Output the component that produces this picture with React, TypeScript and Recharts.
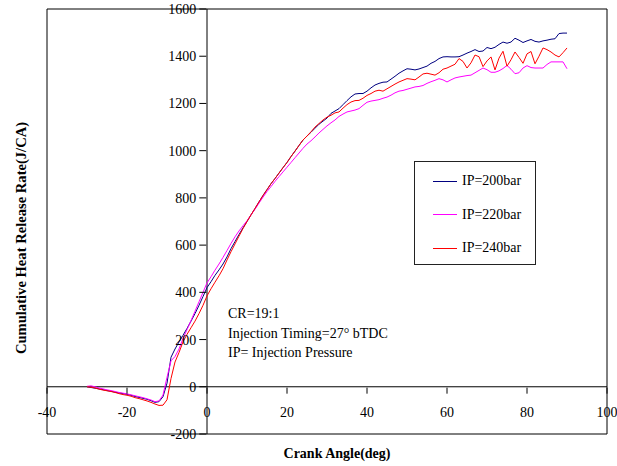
import { LineChart, Line, XAxis, YAxis, Legend, ReferenceLine, ReferenceArea } from 'recharts';

const FONT = '"Liberation Serif", "Times New Roman", serif';

// crank angle, deg
const angles = [
  -30, -29, -28, -27, -26, -25, -24, -23, -22, -21, -20, -19, -18, -17, -16, -15, -14, -13, -12, -11,
  -10, -9, -8, -7, -6, -5, -4, -3, -2, -1, 0, 1, 2, 3, 4, 5, 6, 7, 8, 9,
  10, 11, 12, 13, 14, 15, 16, 17, 18, 19, 20, 21, 22, 23, 24, 25, 26, 27, 28, 29,
  30, 31, 32, 33, 34, 35, 36, 37, 38, 39, 40, 41, 42, 43, 44, 45, 46, 47, 48, 49,
  50, 51, 52, 53, 54, 55, 56, 57, 58, 59, 60, 61, 62, 63, 64, 65, 66, 67, 68, 69,
  70, 71, 72, 73, 74, 75, 76, 77, 78, 79, 80, 81, 82, 83, 84, 85, 86, 87, 88, 89, 90,
];

// cumulative heat release, J/CA
const ip200 = [
  0, -3, -6, -9, -12, -16, -19, -23, -26, -29, -32, -36, -41, -45, -49, -53, -59, -66, -63, -42,
  15, 125, 160, 190, 218, 247, 278, 310, 345, 382,
  420, 445, 472, 495, 520, 550, 585, 615, 645, 673, 700,
  728, 755, 783, 810, 835, 860, 882, 905, 928, 950,
  975, 998, 1022, 1045, 1062, 1078, 1095, 1112, 1125, 1138,
  1158, 1168, 1178, 1195, 1212, 1228, 1240, 1242, 1242, 1252,
  1266, 1278, 1285, 1290, 1291, 1303, 1315, 1328, 1338, 1347,
  1345, 1342, 1346, 1352, 1358, 1370, 1378, 1390, 1397, 1398,
  1397, 1397, 1398, 1405, 1413, 1420, 1428, 1420, 1422, 1437,
  1432, 1438, 1450, 1460, 1455, 1460, 1476, 1468, 1458, 1465,
  1471, 1463, 1460, 1465, 1468, 1472, 1474, 1496, 1498, 1498,
];

const ip220 = [
  2, 4, 0, -5, -9, -13, -16, -20, -24, -27, -30, -34, -38, -42, -46, -51, -56, -63, -60, -35,
  40, 110, 128, 160, 205, 242, 280, 320, 360, 400,
  440, 466, 494, 520, 548, 577, 607, 635, 660, 682, 703,
  728, 752, 778, 803, 827, 848, 870, 890, 910, 930,
  950, 970, 990, 1010, 1028, 1042, 1058, 1075, 1090, 1105,
  1118, 1130, 1145, 1155, 1164, 1168, 1172, 1178, 1192, 1205,
  1210, 1213, 1216, 1222, 1227, 1235, 1245, 1252, 1255, 1260,
  1265, 1270, 1272, 1276, 1285, 1292, 1298, 1305, 1300, 1291,
  1300, 1308, 1312, 1315, 1318, 1320, 1330, 1340, 1350, 1343,
  1332, 1332, 1338, 1348, 1361, 1345, 1326, 1330, 1350, 1360,
  1352, 1350, 1350, 1350, 1365, 1376, 1376, 1376, 1376, 1347,
];

const ip240 = [
  0, -2, -5, -10, -14, -17, -20, -24, -29, -33, -36, -40, -46, -50, -55, -60, -66, -73, -79, -78,
  -55, 35, 105, 145, 190, 222, 250, 278, 310, 345,
  385, 415, 443, 470, 500, 537, 572, 605, 638, 670, 700,
  728, 755, 783, 810, 835, 860, 882, 905, 928, 950,
  975, 998, 1022, 1045, 1062, 1080, 1100, 1115, 1130, 1142,
  1150, 1160, 1164, 1180, 1195, 1206, 1212, 1213, 1222, 1234,
  1242, 1252, 1256, 1252, 1262, 1272, 1282, 1291, 1298, 1305,
  1303, 1300, 1312, 1325, 1328, 1324, 1320, 1330, 1345, 1350,
  1358, 1366, 1390, 1378, 1350, 1372, 1405, 1398, 1356, 1380,
  1397, 1342, 1392, 1421, 1358, 1385, 1418, 1395, 1370, 1410,
  1420, 1368, 1400, 1435, 1428, 1418, 1405, 1397, 1415, 1435,
];

const xTicks = [-40, -20, 0, 20, 40, 60, 80, 100];
const yTicks = [-200, 0, 200, 400, 600, 800, 1000, 1200, 1400, 1600];
const xDomain: [number, number] = [-40, 100];
const yDomain: [number, number] = [-200, 1600];

const notes = ['CR=19:1', 'Injection Timing=27\u00b0 bTDC', 'IP= Injection Pressure'];

const data = angles.map((angle, i) => ({
  angle,
  ip200: ip200[i],
  ip220: ip220[i],
  ip240: ip240[i],
}));

const W = 617;
const H = 466;
const margin = { top: 9, right: 10, bottom: 31, left: 46 };
const plotW = W - margin.left - margin.right;
const plotH = H - margin.top - margin.bottom;
// where the zero lines sit inside the plot, the axes cross there
const zeroX = margin.left + (plotW * -xDomain[0]) / (xDomain[1] - xDomain[0]);
const zeroY = margin.top + (plotH * yDomain[1]) / (yDomain[1] - yDomain[0]);

function XTick(props: any) {
  const { x, payload } = props;
  return (
    <g>
      <line x1={x} x2={x} y1={zeroY} y2={zeroY + 6} stroke="#000" />
      <text x={x} y={zeroY + 29} textAnchor="middle" fontFamily={FONT} fontSize={14} fill="#000">
        {payload.value}
      </text>
    </g>
  );
}

function YTick(props: any) {
  const { y, payload } = props;
  return (
    <g>
      <line x1={zeroX - 7} x2={zeroX} y1={y} y2={y} stroke="#000" />
      <text x={zeroX - 10} y={y + 5} textAnchor="end" fontFamily={FONT} fontSize={14} fill="#000">
        {payload.value}
      </text>
    </g>
  );
}

function LegendBox(props: any) {
  const items = props.payload || [];
  return (
    <div
      style={{
        width: 120,
        height: 102,
        border: '1px solid #222',
        background: '#fff',
        fontFamily: FONT,
        fontSize: 14,
        position: 'relative',
      }}
    >
      {items.map((item: any, i: number) => (
        <div
          key={item.value}
          style={{ position: 'absolute', left: 18, top: 10 + i * 33.7, display: 'flex', alignItems: 'center', height: 18 }}
        >
          <span style={{ display: 'inline-block', width: 24, borderTop: `1px solid ${item.color}`, marginRight: 5 }} />
          <span style={{ color: '#000' }}>{item.value}</span>
        </div>
      ))}
    </div>
  );
}

function Notes() {
  return (
    <g fontFamily={FONT} fill="#000">
      {notes.map((t, i) => (
        <text key={t} x={228} y={318 + i * 19.5} fontSize={14}>
          {t}
        </text>
      ))}
      <text x={337} y={458} textAnchor="middle" fontWeight="bold" fontSize={14}>
        Crank Angle(deg)
      </text>
      <text x={0} y={0} textAnchor="middle" fontWeight="bold" fontSize={14.6} transform="translate(25.5 238) rotate(-90)">
        Cumulative Heat Release Rate(J/CA)
      </text>
    </g>
  );
}

export default function App() {
  return (
    <div style={{ position: 'absolute', left: 0, top: 0, background: '#fff' }}>
      <LineChart width={W} height={H} data={data} margin={margin}>
        <ReferenceArea x1={-40} x2={100} y1={-200} y2={1600} fill="none" stroke="#000" strokeWidth={1} />
        <ReferenceLine x={0} stroke="#000" strokeWidth={1} />
        <ReferenceLine y={0} stroke="#000" strokeWidth={1} />
        <XAxis
          dataKey="angle"
          type="number"
          domain={xDomain}
          ticks={xTicks}
          interval={0}
          height={1}
          axisLine={false}
          tickLine={false}
          tick={<XTick />}
        />
        <YAxis
          type="number"
          domain={yDomain}
          ticks={yTicks}
          interval={0}
          width={1}
          axisLine={false}
          tickLine={false}
          tick={<YTick />}
        />
        <Line type="linear" dataKey="ip200" name="IP=200bar" stroke="#000080" strokeWidth={1} dot={false} isAnimationActive={false} />
        <Line type="linear" dataKey="ip220" name="IP=220bar" stroke="#FF00FF" strokeWidth={1} dot={false} isAnimationActive={false} />
        <Line type="linear" dataKey="ip240" name="IP=240bar" stroke="#FF0000" strokeWidth={1} dot={false} isAnimationActive={false} />
        <Legend
          layout="horizontal"
          verticalAlign="middle"
          align="center"
          content={<LegendBox />}
          wrapperStyle={{ left: 414, top: 161, width: 122, height: 104 }}
        />
        <Notes />
      </LineChart>
    </div>
  );
}
